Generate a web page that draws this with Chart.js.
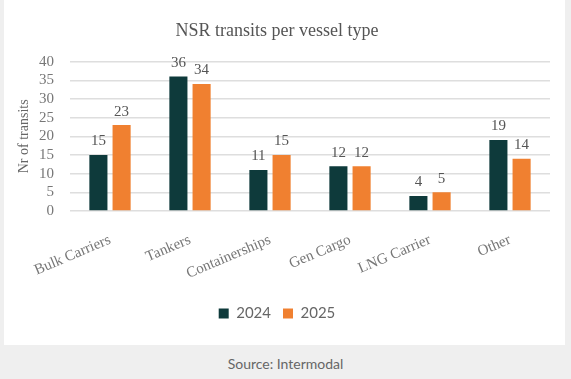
<!DOCTYPE html>
<html>
<head>
<meta charset="utf-8">
<script src="https://cdn.jsdelivr.net/npm/chart.js@4.4.1/dist/chart.umd.min.js"></script>
<style>
  html, body { margin: 0; padding: 0; }
  body { width: 571px; height: 379px; background: #efefef; position: relative; overflow: hidden; }
  #card { position: absolute; left: 4px; top: 0; width: 561px; height: 345px; background: #ffffff; }
  #source { position: absolute; left: 0; top: 355px; width: 571px; text-align: center;
            font-family: Lato, sans-serif; font-size: 14px; color: #666; }
</style>
</head>
<body>
<div id="card"><canvas id="myChart" width="561" height="345"></canvas></div>
<div id="source">Source: Intermodal</div>
<script>
// data
const categories = ['Bulk Carriers', 'Tankers', 'Containerships', 'Gen Cargo', 'LNG Carrier', 'Other'];
const values2024 = [15, 36, 11, 12, 4, 19];
const values2025 = [23, 34, 15, 12, 5, 14];
const yMax = 40;
const yStep = 5;

const serif = "'Liberation Serif', 'DejaVu Serif', serif";

// draws the number above every bar
const valueLabels = {
  id: 'valueLabels',
  afterDatasetsDraw(chart) {
    const ctx = chart.ctx;
    ctx.save();
    ctx.font = '15px ' + serif;
    ctx.fillStyle = '#555';
    ctx.textAlign = 'center';
    ctx.textBaseline = 'bottom';
    chart.data.datasets.forEach((ds, i) => {
      chart.getDatasetMeta(i).data.forEach((bar, j) => {
        ctx.fillText(ds.data[j], bar.x, bar.y - 6);
      });
    });
    ctx.restore();
  }
};

const ctx = document.getElementById('myChart').getContext('2d');
const myChart = new Chart(ctx, {
  type: 'bar',
  data: {
    labels: categories,
    datasets: [
      { label: '2024', data: values2024, backgroundColor: '#0e3a3b' },
      { label: '2025', data: values2025, backgroundColor: '#f08030' }
    ]
  },
  options: {
    responsive: false,
    animation: false,
    categoryPercentage: 0.58,
    barPercentage: 0.78,
    layout: { padding: { left: 0, right: 15, top: 0, bottom: 14 } },
    plugins: {
      title: {
        display: true,
        text: 'NSR transits per vessel type',
        color: '#555',
        font: { family: serif, size: 18, weight: 'normal' },
        padding: { top: 20, bottom: 20 }
      },
      legend: {
        position: 'bottom',
        labels: {
          color: '#666',
          font: { family: 'Lato, sans-serif', size: 15 },
          boxWidth: 10,
          boxHeight: 10,
          padding: 12
        }
      },
      tooltip: { enabled: false }
    },
    scales: {
      x: {
        grid: { display: false },
        border: { display: false },
        ticks: {
          color: '#777',
          font: { family: serif, size: 15 },
          minRotation: 23,
          maxRotation: 23,
          padding: 12
        },
        afterFit: (scale) => { scale.height = 83; }
      },
      y: {
        min: 0,
        max: yMax,
        grid: { color: '#dedede', lineWidth: 1.5, drawTicks: false },
        border: { display: false },
        ticks: {
          stepSize: yStep,
          autoSkip: false,
          color: '#777',
          font: { family: serif, size: 15 },
          padding: 16
        },
        title: {
          display: true,
          text: 'Nr of transits',
          color: '#666',
          font: { family: serif, size: 14 },
          padding: { top: 12, bottom: 0 }
        },
        afterFit: (scale) => { scale.width = 66; }
      }
    }
  },
  plugins: [valueLabels]
});
</script>
</body>
</html>
